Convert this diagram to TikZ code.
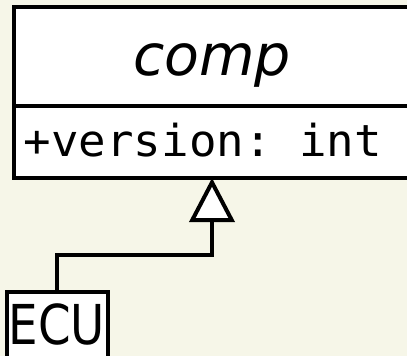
\documentclass[tikz,border=0pt]{standalone}
\usepackage{fontspec}
\setmainfont{DejaVu Sans}
\newfontfamily\attrfont[FakeStretch=1.04]{DejaVu Sans Mono}
\newfontfamily\ecufont[FakeStretch=0.85]{DejaVu Sans}
\usetikzlibrary{arrows.meta,positioning}
\definecolor{paper}{RGB}{246,246,232}

\begin{document}
\begin{tikzpicture}[x=1pt, y=-1pt, line width=4pt,
    box/.style = {draw, fill=white, inner sep=0pt, outer sep=0pt},
    inherit/.style = {-{Triangle[length=44pt, width=45pt, fill=white]}}]
    \fill[paper] (0,0) rectangle (407,356);
    \useasboundingbox (0,0) rectangle (407,356);

    % class comp
    \node[box, minimum width=396pt, minimum height=99pt, anchor=north west,
          text height=37pt, text depth=0pt] (comp) at (14,7)
          {\fontsize{57}{60}\selectfont\itshape comp};
    \node[box, minimum width=396pt, minimum height=72pt, anchor=north] (attr) at (comp.south) {};
    \node[anchor=base west, inner sep=0pt] (version) at ([xshift=7.8pt, yshift=-14pt]attr.west)
          {\fontsize{44}{48}\selectfont\attrfont\frenchspacing +version: int};

    % class ECU
    \node[box, minimum width=101pt, minimum height=66pt,
          text height=38pt, text depth=0pt] (ECU) at (57,325)
          {\fontsize{55}{58}\selectfont\ecufont ECU};

    % generalisation
    \draw[inherit] (ECU.north) |- ([yshift=-77pt]attr.south) -- (attr.south);
\end{tikzpicture}
\end{document}
